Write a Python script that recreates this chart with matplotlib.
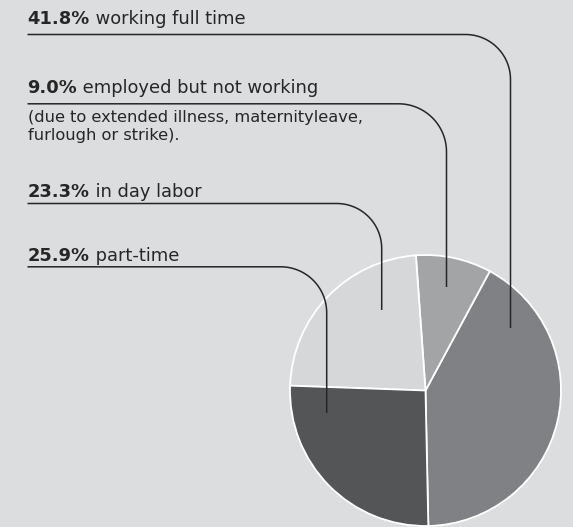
import numpy as np
import matplotlib
matplotlib.use("Agg")
import matplotlib.pyplot as plt

# data
shares = [41.8, 9.0, 23.3, 25.9]
pct_labels = ["41.8%", "9.0%", "23.3%", "25.9%"]
names = ["working full time", "employed but not working", "in day labor", "part-time"]
note_lines = ["(due to extended illness, maternityleave,", "furlough or strike)."]
slice_colors = ["#808184", "#a2a4a6", "#d6d7d9", "#545557"]

W, H = 573, 527
bg = "#dcdddf"
ink = "#262626"

fig = plt.figure(figsize=(W / 100, H / 100), dpi=100, facecolor=bg)
ax = fig.add_axes([0, 0, 1, 1])

# pie (pixel layout, y measured from top)
cx, cy, rad = 425.5, 390.5, 135.5
ax.pie(shares, colors=slice_colors, startangle=-88.8, counterclock=True,
       center=(cx, H - cy), radius=rad,
       wedgeprops=dict(edgecolor="white", linewidth=1.3))
ax.set_xlim(0, W)
ax.set_ylim(0, H)
ax.set_aspect("equal")
ax.axis("off")

# leader lines: underline y, vertical x, end y, corner radius
leaders = [(34.5, 510.5, 328, 45), (103.8, 446.5, 287, 48),
           (203.5, 381.7, 310, 45), (266.8, 326.7, 413, 46)]
baselines = [24, 92.7, 197.3, 260.7]
x0 = 27.5

for (ly, vx, ey, r), base, pct, name in zip(leaders, baselines, pct_labels, names):
    t = np.linspace(np.pi / 2, 0, 30)
    arc_x = vx - r + r * np.cos(t)
    arc_y = ly + r - r * np.sin(t)
    xs = np.concatenate([[x0], arc_x, [vx]])
    ys = np.concatenate([[ly], arc_y, [ey]])
    ax.plot(xs, H - ys, color=ink, lw=1.1, solid_capstyle="butt")

    tb = ax.text(x0, H - base, pct, fontsize=12.9, fontweight="bold",
                 color=ink, va="baseline", ha="left")
    ax.annotate(" " + name, xy=(1, 0), xycoords=tb, fontsize=12.9,
                color=ink, va="bottom", ha="left")

for line, base in zip(note_lines, [121.7, 140.2]):
    ax.text(x0, H - base, line, fontsize=11.7, color=ink, va="baseline",
            ha="left")

fig.savefig("out.png", dpi=100, facecolor=bg)
